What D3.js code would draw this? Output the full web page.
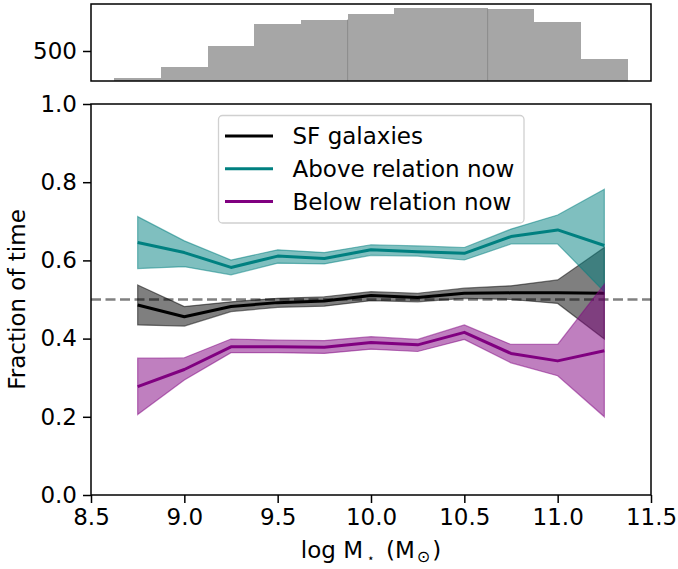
<!DOCTYPE html>
<html>
<head>
<meta charset="utf-8">
<script src="https://cdn.jsdelivr.net/npm/d3@7"></script>
<style>
  html, body { margin: 0; padding: 0; background: #fff; }
  svg { display: block; font-family: "DejaVu Sans", sans-serif; }
</style>
</head>
<body>
<svg id="chart" width="678" height="569"></svg>
<script>
// ---- data ----
const massBins = [8.75, 9.0, 9.25, 9.5, 9.75, 10.0, 10.25, 10.5, 10.75, 11.0, 11.25];

const sfMedian = [0.486, 0.456, 0.482, 0.492, 0.496, 0.510, 0.505, 0.516, 0.517, 0.517, 0.516];
const sfUpper  = [0.537, 0.482, 0.494, 0.503, 0.507, 0.520, 0.516, 0.529, 0.535, 0.550, 0.633];
const sfLower  = [0.435, 0.432, 0.469, 0.480, 0.483, 0.497, 0.494, 0.503, 0.500, 0.490, 0.399];

const aboveMedian = [0.646, 0.620, 0.582, 0.611, 0.605, 0.627, 0.622, 0.618, 0.661, 0.678, 0.638];
const aboveUpper  = [0.712, 0.650, 0.601, 0.627, 0.620, 0.640, 0.637, 0.633, 0.680, 0.716, 0.782];
const aboveLower  = [0.579, 0.584, 0.563, 0.593, 0.591, 0.613, 0.611, 0.601, 0.642, 0.642, 0.520];

const belowMedian = [0.277, 0.321, 0.379, 0.379, 0.378, 0.390, 0.384, 0.416, 0.362, 0.343, 0.369];
const belowUpper  = [0.350, 0.351, 0.399, 0.396, 0.395, 0.405, 0.398, 0.435, 0.385, 0.385, 0.539];
const belowLower  = [0.206, 0.294, 0.364, 0.364, 0.362, 0.373, 0.367, 0.398, 0.338, 0.305, 0.200];

const seriesNames = ["SF galaxies", "Above relation now", "Below relation now"];
const seriesColors = ["#000000", "#008080", "#800080"];

const histEdges  = [8.625, 8.875, 9.125, 9.375, 9.625, 9.875, 10.125, 10.375, 10.625, 10.875, 11.125, 11.375];
const histCounts = [50, 238, 588, 955, 1022, 1117, 1222, 1222, 1200, 983, 367];
const histSeams  = [9.875, 10.625];

const xTicks = [8.5, 9.0, 9.5, 10.0, 10.5, 11.0, 11.5];
const yTicks = [0.0, 0.2, 0.4, 0.6, 0.8, 1.0];
const histTicks = [500];
const refLevel = 0.5;

// ---- layout ----
const svg = d3.select("#chart");
const L = 91, R = 651;
const mainTop = 104, mainBot = 495;
const histTop = 4, histBot = 81;
const FS = 23;

const x = d3.scaleLinear().domain([8.5, 11.5]).range([L, R]);
const y = d3.scaleLinear().domain([0, 1]).range([mainBot, mainTop]);
const yh = d3.scaleLinear().domain([0, d3.max(histCounts) * 1.05]).range([histBot, histTop]);

// ---- histogram panel ----
const hist = svg.append("g");
hist.selectAll("rect.bar")
  .data(histCounts)
  .join("rect")
  .attr("class", "bar")
  .attr("x", (d, i) => x(histEdges[i]))
  .attr("width", (d, i) => x(histEdges[i + 1]) - x(histEdges[i]))
  .attr("y", d => yh(d))
  .attr("height", d => yh(0) - yh(d))
  .attr("fill", "#a6a6a6")
  .attr("shape-rendering", "crispEdges");
hist.selectAll("line.seam")
  .data(histSeams)
  .join("line")
  .attr("x1", d => x(d)).attr("x2", d => x(d))
  .attr("y1", d => {
    const i = histEdges.indexOf(d);
    return yh(Math.min(histCounts[i - 1], histCounts[i]));
  })
  .attr("y2", yh(0))
  .attr("stroke", "#8a8a8a").attr("stroke-width", 1);

const hAxis = hist.append("g").attr("transform", `translate(${L},0)`)
  .call(d3.axisLeft(yh).tickValues(histTicks).tickSize(8).tickPadding(6).tickFormat(d3.format("d")));
hAxis.select(".domain").remove();
hAxis.selectAll("text").attr("font-size", FS).attr("font-family", "DejaVu Sans").attr("fill", "#000");
hAxis.selectAll("line").attr("stroke", "#000").attr("stroke-width", 1.5);

hist.append("rect")
  .attr("x", L).attr("y", histTop).attr("width", R - L).attr("height", histBot - histTop)
  .attr("fill", "none").attr("stroke", "#000").attr("stroke-width", 1.5);

// ---- main panel ----
const main = svg.append("g");

main.append("defs").append("clipPath").attr("id", "clipMain")
  .append("rect").attr("x", L).attr("y", mainTop).attr("width", R - L).attr("height", mainBot - mainTop);

const plotArea = main.append("g").attr("clip-path", "url(#clipMain)");

// reference dashed line
plotArea.append("line")
  .attr("x1", L).attr("x2", R)
  .attr("y1", y(refLevel)).attr("y2", y(refLevel))
  .attr("stroke", "#808080").attr("stroke-width", 2.6)
  .attr("stroke-dasharray", "10,4.5");

const bands = [
  { med: sfMedian,    lo: sfLower,    hi: sfUpper },
  { med: aboveMedian, lo: aboveLower, hi: aboveUpper },
  { med: belowMedian, lo: belowLower, hi: belowUpper }
];

const area = d3.area()
  .x((d, i) => x(massBins[i]))
  .y0(d => y(d[0]))
  .y1(d => y(d[1]));
const line = d3.line()
  .x((d, i) => x(massBins[i]))
  .y(d => y(d));

bands.forEach((s, k) => {
  const pairs = s.lo.map((v, i) => [v, s.hi[i]]);
  plotArea.append("path")
    .datum(pairs)
    .attr("d", area)
    .attr("fill", seriesColors[k]).attr("fill-opacity", 0.5)
    .attr("stroke", seriesColors[k]).attr("stroke-opacity", 0.5).attr("stroke-width", 1.2);
  plotArea.append("path")
    .datum(s.med)
    .attr("d", line)
    .attr("fill", "none")
    .attr("stroke", seriesColors[k]).attr("stroke-width", 3)
    .attr("stroke-linejoin", "round");
});

// axes
const xAxis = main.append("g").attr("transform", `translate(0,${mainBot})`)
  .call(d3.axisBottom(x).tickValues(xTicks).tickSize(8).tickPadding(6).tickFormat(d3.format(".1f")));
const yAxis = main.append("g").attr("transform", `translate(${L},0)`)
  .call(d3.axisLeft(y).tickValues(yTicks).tickSize(8).tickPadding(6).tickFormat(d3.format(".1f")));
[xAxis, yAxis].forEach(a => {
  a.select(".domain").remove();
  a.selectAll("text").attr("font-size", FS).attr("font-family", "DejaVu Sans").attr("fill", "#000");
  a.selectAll("line").attr("stroke", "#000").attr("stroke-width", 1.5);
});

main.append("rect")
  .attr("x", L).attr("y", mainTop).attr("width", R - L).attr("height", mainBot - mainTop)
  .attr("fill", "none").attr("stroke", "#000").attr("stroke-width", 1.5);

// axis labels
const xl = svg.append("text")
  .attr("x", (L + R) / 2).attr("y", 558)
  .attr("text-anchor", "middle").attr("font-size", FS).attr("fill", "#000");
xl.append("tspan").text("log M");
xl.append("tspan").attr("font-size", 12).attr("dy", 4).attr("dx", 4).text("⋆");
xl.append("tspan").attr("dy", -4).text("\u2002(M");
xl.append("tspan").attr("font-size", 16).attr("dy", 4).attr("dx", 2).text("⊙");
xl.append("tspan").attr("dy", -4).attr("dx", 2).text(")");

svg.append("text")
  .attr("transform", `translate(25,${(mainTop + mainBot) / 2}) rotate(-90)`)
  .attr("text-anchor", "middle").attr("font-size", FS).attr("fill", "#000")
  .text("Fraction of time");

// legend
const lg = svg.append("g");
lg.append("rect")
  .attr("x", 218.5).attr("y", 115.5).attr("width", 305.5).attr("height", 107.5)
  .attr("rx", 4).attr("ry", 4)
  .attr("fill", "#fff").attr("fill-opacity", 0.8)
  .attr("stroke", "#d0d0d0").attr("stroke-width", 1.3);
seriesNames.forEach((name, i) => {
  const yy = 136 + i * 32.8;
  lg.append("line")
    .attr("x1", 225).attr("x2", 273).attr("y1", yy).attr("y2", yy)
    .attr("stroke", seriesColors[i]).attr("stroke-width", 3);
  lg.append("text")
    .attr("x", 292.5).attr("y", yy).attr("dy", "0.35em")
    .attr("font-size", FS).attr("fill", "#000").text(name);
});
</script>
</body>
</html>
